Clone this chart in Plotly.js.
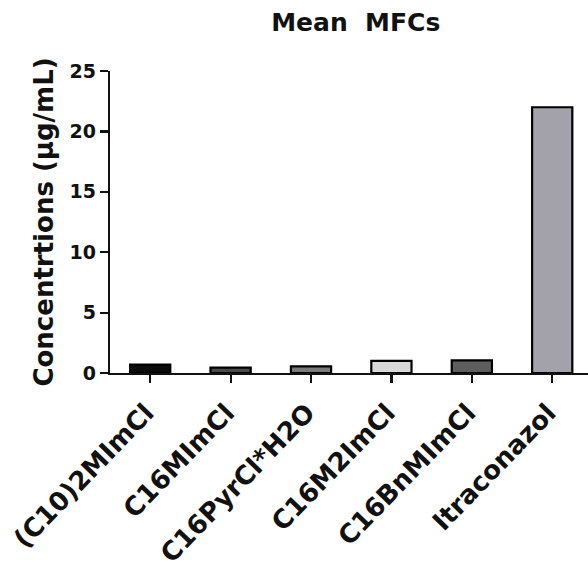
<!DOCTYPE html>
<html>
<head>
<meta charset="utf-8">
<script src="https://cdn.plot.ly/plotly-3.0.1.min.js"></script>
<style>
  html, body { margin: 0; padding: 0; background: #fff; }
  #chart { width: 588px; height: 581px; }
</style>
</head>
<body>
<div id="chart"></div>
<script>
// Mean minimum fungicidal concentrations per compound
const compounds = ["(C10)2MImCl", "C16MImCl", "C16PyrCl*H2O", "C16M2ImCl", "C16BnMImCl", "Itraconazol"];
const meanMFC = [0.7, 0.45, 0.55, 1.0, 1.05, 22.0];
const barColors = ["#0b0b0b", "#4a4a4a", "#7a7a7a", "#d9d9d9", "#5e5e5e", "#a3a2aa"];
const yTicks = [0, 5, 10, 15, 20, 25];

const font = "DejaVu Sans, Verdana, sans-serif";

const trace = {
  type: "bar",
  x: compounds,
  y: meanMFC,
  width: 0.5,
  marker: { color: barColors, line: { color: "#000", width: 2.2 } },
  hoverinfo: "x+y"
};

const layout = {
  width: 588,
  height: 581,
  margin: { l: 110, r: 0, t: 71, b: 208 },
  paper_bgcolor: "#fff",
  plot_bgcolor: "#fff",
  showlegend: false,
  title: {
    text: "<b>Mean  MFCs</b>",
    font: { family: font, size: 25, color: "#111" },
    x: 0.605, xanchor: "center",
    y: 0.962, yanchor: "middle"
  },
  xaxis: {
    type: "category",
    range: [-0.5, 5.445],
    showline: true, linecolor: "#111", linewidth: 2.2,
    ticks: "outside", ticklen: 8, tickwidth: 2.2, tickcolor: "#111",
    tickangle: -46,
    ticklabelstandoff: 4,
    ticklabelshift: -4,
    tickfont: { family: font, size: 26, color: "#111", weight: "bold" },
    showgrid: false, zeroline: false, fixedrange: true
  },
  yaxis: {
    range: [0, 25],
    tickvals: yTicks,
    ticktext: yTicks.map(String),
    showline: true, linecolor: "#111", linewidth: 2.2,
    ticks: "outside", ticklen: 8, tickwidth: 2.2, tickcolor: "#111",
    tickfont: { family: font, size: 19, color: "#111", weight: "bold" },
    title: {
      text: "<b>Concentrtions (µg/mL)</b>",
      font: { family: font, size: 26, color: "#111" },
      standoff: 9
    },
    showgrid: false, zeroline: false, fixedrange: true
  }
};

Plotly.newPlot("chart", [trace], layout, { displayModeBar: false, staticPlot: true });
</script>
</body>
</html>
